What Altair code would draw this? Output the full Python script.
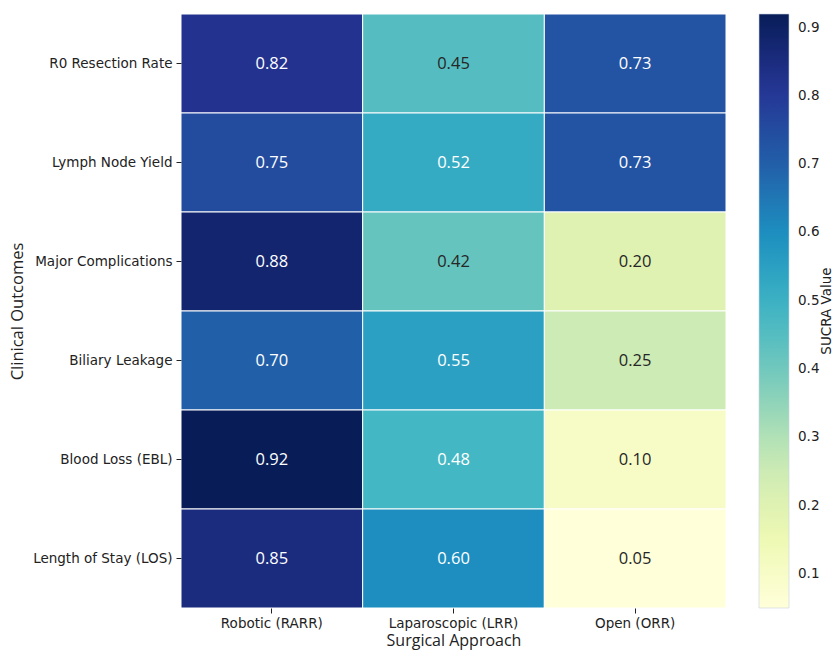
import altair as alt
import numpy as np
import pandas as pd

# SUCRA values for each outcome (rows) by surgical approach (columns)
approaches = ["Robotic (RARR)", "Laparoscopic (LRR)", "Open (ORR)"]
outcomes = [
    "R0 Resection Rate",
    "Lymph Node Yield",
    "Major Complications",
    "Biliary Leakage",
    "Blood Loss (EBL)",
    "Length of Stay (LOS)",
]
robotic = [0.82, 0.75, 0.88, 0.70, 0.92, 0.85]
laparoscopic = [0.45, 0.52, 0.42, 0.55, 0.48, 0.60]
open_surgery = [0.73, 0.73, 0.20, 0.25, 0.10, 0.05]

rows = []
for i, outcome in enumerate(outcomes):
    for approach, series in zip(approaches, [robotic, laparoscopic, open_surgery]):
        rows.append({"outcome": outcome, "approach": approach, "value": series[i]})
df = pd.DataFrame(rows)

# YlGnBu colour stops spread over the data range
ylgnbu = ["#ffffd9", "#edf8b1", "#c7e9b4", "#7fcdbb", "#41b6c4",
          "#1d91c0", "#225ea8", "#253494", "#081d58"]
vmin, vmax = min(df["value"]), max(df["value"])
stops = [float(v) for v in np.linspace(vmin, vmax, len(ylgnbu))]

FONT = "DejaVu Sans"
ANNOT_FONT = "Open Sans"
W, H = 545, 594

base = alt.Chart(df).encode(
    x=alt.X("approach:N", sort=approaches, title="Surgical Approach",
            axis=alt.Axis(labelAngle=0, domain=False, tickSize=5, tickColor="#222",
                          labelPadding=3, labelFontSize=13.5, titleFontSize=16,
                          titlePadding=3, labelColor="#222", titleColor="#222",
                          labelFont=FONT, titleFont=ANNOT_FONT, titleFontWeight="normal")),
    y=alt.Y("outcome:N", sort=outcomes, title="Clinical Outcomes",
            axis=alt.Axis(domain=False, tickSize=5, tickColor="#222",
                          labelPadding=4, labelFontSize=13.5, titleFontSize=16.5,
                          titlePadding=7, labelColor="#222", titleColor="#222",
                          labelFont=FONT, titleFont=ANNOT_FONT, titleFontWeight="normal")),
)

cells = base.mark_rect(stroke="white", strokeWidth=1).encode(
    color=alt.Color(
        "value:Q",
        scale=alt.Scale(domain=stops, range=ylgnbu, interpolate="rgb"),
        legend=alt.Legend(
            title=None, orient="none", legendX=W + 33, legendY=0,
            direction="vertical", gradientLength=H, gradientThickness=30,
            gradientStrokeColor="#c8d4e0", gradientStrokeWidth=0.6,
            values=[0.1, 0.2, 0.3, 0.4, 0.5, 0.6, 0.7, 0.8, 0.9],
            labelFontSize=13.5, labelFont=FONT, labelColor="#222",
            labelOffset=9, padding=0, format=".1f",
        ),
    )
)

labels = base.mark_text(fontSize=16.5, font=ANNOT_FONT).encode(
    text=alt.Text("value:Q", format=".2f"),
    color=alt.condition(alt.datum.value > 0.465, alt.value("white"), alt.value("#262626")),
)

cbar_title = alt.Chart(pd.DataFrame({"t": ["SUCRA Value"]})).mark_text(
    angle=270, fontSize=13.5, font=FONT, color="#222", align="center", baseline="middle"
).encode(text="t:N", x=alt.value(W + 101), y=alt.value(H / 2))

chart = alt.layer(cells, labels, cbar_title).properties(
    width=W, height=H,
    autosize=alt.AutoSizeParams(type="none"),
    padding={"left": 181, "top": 14, "right": 107, "bottom": 42},
).configure_view(stroke=None)

chart.save("out.html", embed_options={"renderer": "svg", "actions": False})
